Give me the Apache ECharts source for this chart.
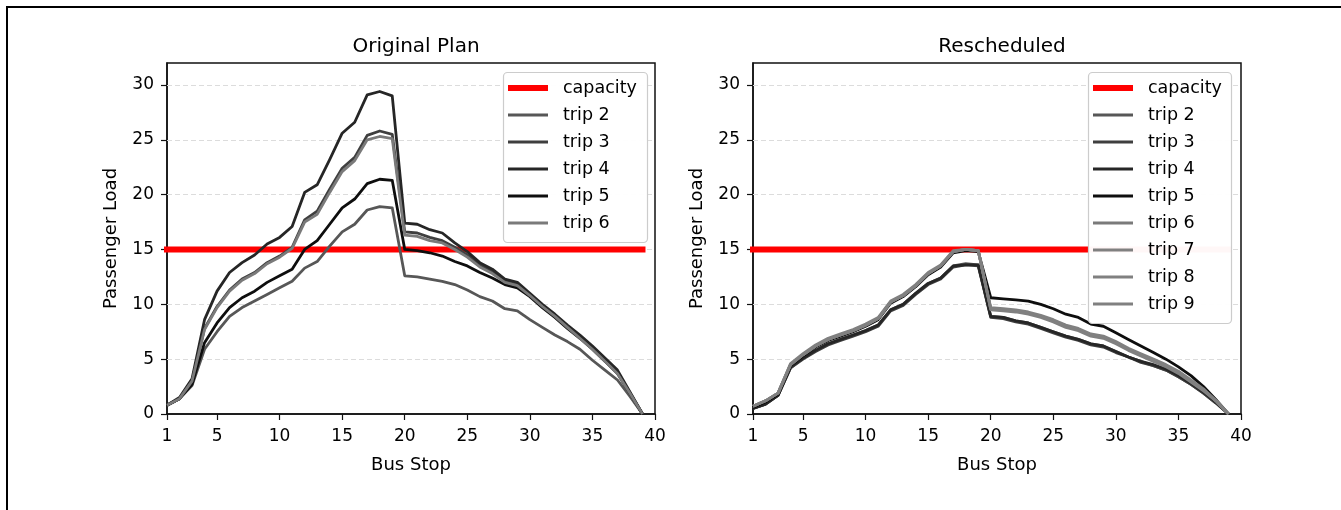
<!DOCTYPE html>
<html>
<head>
<meta charset="utf-8">
<script src="https://cdn.jsdelivr.net/npm/echarts@6/dist/echarts.min.js"></script>
<style>
html,body{margin:0;padding:0;background:#fff;}
#chart{width:1341px;height:510px;}
</style>
</head>
<body>
<div id="chart"></div>
<script>
// ---------- data ----------
const stops = [1,2,3,4,5,6,7,8,9,10,11,12,13,14,15,16,17,18,19,20,21,22,23,24,25,26,27,28,29,30,31,32,33,34,35,36,37,38,39];
const capacity = 15;
const capacityStops = [1, 39];
const xTicks = [1,5,10,15,20,25,30,35,40];
const yTicks = [0,5,10,15,20,25,30];
const titles = ['Original Plan', 'Rescheduled'];
const xName = 'Bus Stop';
const yName = 'Passenger Load';

// Original plan
const origTrip2 = [0.8,1.4,2.6,5.9,7.5,8.9,9.7,10.3,10.9,11.5,12.1,13.3,13.9,15.3,16.6,17.3,18.6,18.9,18.8,12.6,12.5,12.3,12.1,11.8,11.3,10.7,10.3,9.6,9.4,8.6,7.9,7.2,6.6,5.9,4.9,4.0,3.1,1.6,0];
const origTrip3 = [0.8,1.4,3.0,7.8,9.8,11.3,12.3,12.9,13.8,14.4,15.2,17.7,18.5,20.5,22.4,23.4,25.4,25.8,25.5,16.6,16.5,16.1,15.8,15.2,14.5,13.6,13.0,12.1,11.8,10.9,9.9,9.0,8.0,7.0,6.0,4.9,3.8,1.9,0];
const origTrip4 = [0.8,1.5,3.2,8.6,11.2,12.9,13.8,14.5,15.5,16.1,17.1,20.2,20.9,23.2,25.6,26.6,29.1,29.4,29.0,17.4,17.3,16.8,16.5,15.6,14.8,13.8,13.2,12.3,12.0,11.0,10.0,9.1,8.1,7.2,6.2,5.1,4.0,2.0,0];
const origTrip5 = [0.8,1.4,2.7,6.5,8.3,9.7,10.6,11.2,12.0,12.6,13.2,15.0,15.8,17.3,18.8,19.6,21.0,21.4,21.3,15.0,14.9,14.7,14.4,13.9,13.5,12.9,12.4,11.8,11.5,10.7,9.7,8.8,7.8,6.9,5.9,4.8,3.7,1.9,0];
const origTrip6 = [0.8,1.4,3.0,7.7,9.7,11.2,12.2,12.8,13.7,14.3,15.1,17.5,18.2,20.2,22.1,23.1,25.0,25.3,25.1,16.3,16.2,15.8,15.6,15.0,14.3,13.4,12.8,12.0,11.7,10.8,9.8,8.9,7.9,6.9,5.9,4.8,3.7,1.9,0];

// Rescheduled
const resTrip2 = [0.5,0.9,1.7,4.2,5.1,5.8,6.4,6.8,7.2,7.6,8.1,9.5,10.0,11.0,11.9,12.4,13.5,13.7,13.6,8.9,8.8,8.5,8.3,7.9,7.5,7.1,6.8,6.4,6.2,5.7,5.2,4.8,4.4,4.0,3.4,2.7,1.9,1.0,0];
const resTrip3 = [0.5,0.9,1.7,4.2,5.0,5.7,6.3,6.7,7.1,7.5,8.0,9.4,9.9,10.9,11.8,12.3,13.4,13.6,13.5,8.8,8.7,8.4,8.2,7.8,7.4,7.0,6.7,6.3,6.1,5.6,5.2,4.7,4.4,4.0,3.4,2.7,1.9,1.0,0];
const resTrip4 = [0.5,0.9,1.7,4.3,5.1,5.8,6.4,6.8,7.2,7.6,8.1,9.5,10.0,11.0,11.9,12.4,13.5,13.6,13.6,8.9,8.8,8.5,8.3,7.9,7.5,7.1,6.8,6.4,6.2,5.7,5.2,4.8,4.5,4.1,3.5,2.8,2.0,1.1,0];
const resTrip5 = [0.6,1.1,1.8,4.4,5.3,6.1,6.7,7.1,7.5,8.0,8.6,10.1,10.7,11.6,12.7,13.4,14.7,14.9,14.8,10.6,10.5,10.4,10.3,10.0,9.6,9.1,8.8,8.2,8.0,7.4,6.8,6.2,5.6,5.0,4.3,3.5,2.5,1.3,0];
const resTrip6 = [0.7,1.2,1.9,4.5,5.4,6.2,6.8,7.2,7.6,8.1,8.7,10.2,10.8,11.7,12.8,13.5,14.8,15.0,14.9,9.6,9.5,9.4,9.2,8.9,8.5,8.0,7.7,7.2,7.0,6.5,5.9,5.4,4.9,4.4,3.8,3.0,2.2,1.2,0];
const resTrip7 = [0.7,1.2,1.9,4.5,5.4,6.2,6.8,7.2,7.6,8.1,8.7,10.2,10.8,11.7,12.8,13.5,14.8,15.0,14.9,9.5,9.4,9.3,9.1,8.8,8.4,7.9,7.6,7.1,6.9,6.4,5.8,5.3,4.8,4.3,3.7,2.9,2.1,1.2,0];
const resTrip8 = [0.7,1.2,1.9,4.6,5.5,6.3,6.9,7.3,7.7,8.2,8.8,10.3,10.9,11.8,12.9,13.6,14.9,15.0,14.9,9.7,9.6,9.5,9.3,9.0,8.6,8.1,7.8,7.3,7.1,6.6,6.0,5.5,5.0,4.5,3.9,3.1,2.3,1.2,0];
const resTrip9 = [0.7,1.2,1.9,4.5,5.4,6.2,6.8,7.2,7.6,8.1,8.7,10.2,10.8,11.7,12.8,13.5,14.8,15.0,14.9,9.6,9.5,9.4,9.2,8.9,8.5,8.0,7.7,7.2,7.0,6.5,5.9,5.4,4.9,4.4,3.8,3.0,2.2,1.2,0];

const origTrips = [
  {name:'trip 2', values:origTrip2, color:'#575757'},
  {name:'trip 3', values:origTrip3, color:'#3f3f3f'},
  {name:'trip 4', values:origTrip4, color:'#262626'},
  {name:'trip 5', values:origTrip5, color:'#0e0e0e'},
  {name:'trip 6', values:origTrip6, color:'#7a7a7a'}
];
const resTrips = [
  {name:'trip 2', values:resTrip2, color:'#575757'},
  {name:'trip 3', values:resTrip3, color:'#3f3f3f'},
  {name:'trip 4', values:resTrip4, color:'#262626'},
  {name:'trip 5', values:resTrip5, color:'#0e0e0e'},
  {name:'trip 6', values:resTrip6, color:'#808080'},
  {name:'trip 7', values:resTrip7, color:'#808080'},
  {name:'trip 8', values:resTrip8, color:'#808080'},
  {name:'trip 9', values:resTrip9, color:'#808080'}
];

// ---------- chart ----------
const FONT = 'DejaVu Sans';
const TXT = '#000';
const chart = echarts.init(document.getElementById('chart'), null, {renderer:'canvas'});

const grids = [
  {left:167, top:63, width:488, height:351, show:true, borderColor:'#111', borderWidth:1.5, backgroundColor:'transparent'},
  {left:753, top:63, width:488, height:351, show:true, borderColor:'#111', borderWidth:1.5, backgroundColor:'transparent'}
];

function xAxisFor(i){
  return {
    type:'value', gridIndex:i, min:1, max:40,
    name:xName, nameLocation:'middle', nameGap:42,
    nameTextStyle:{fontFamily:FONT, fontSize:18, color:TXT},
    axisLine:{show:true, onZero:false, lineStyle:{color:'#111', width:1.5}},
    axisTick:{show:true, length:6, customValues:xTicks, lineStyle:{color:'#111', width:1.2}},
    axisLabel:{customValues:xTicks, fontFamily:FONT, fontSize:17, color:TXT, margin:14},
    splitLine:{show:false}
  };
}
function yAxisFor(i){
  return {
    type:'value', gridIndex:i, min:0, max:32,
    name:yName, nameLocation:'middle', nameGap:47, nameRotate:90,
    nameTextStyle:{fontFamily:FONT, fontSize:18, color:TXT},
    axisLine:{show:true, onZero:false, lineStyle:{color:'#111', width:1.5}},
    axisTick:{show:true, length:6, customValues:yTicks, lineStyle:{color:'#111', width:1.2}},
    axisLabel:{customValues:yTicks, fontFamily:FONT, fontSize:17, color:TXT, margin:13},
    splitLine:{show:false}
  };
}

const series = [];
function gridLines(){
  return yTicks.filter(v => v > 0).map(v => ({yAxis:v}));
}
[origTrips, resTrips].forEach((trips, gi) => {
  series.push({
    type:'line', name:'capacity', xAxisIndex:gi, yAxisIndex:gi,
    data:capacityStops.map(s => [s, capacity]),
    symbol:'none', lineStyle:{color:'#ff0000', width:6, cap:'square'}, itemStyle:{color:'#ff0000'},
    silent:true, animation:false, z:2,
    markLine:{
      silent:true, symbol:'none', label:{show:false},
      lineStyle:{color:'#dcdcdc', type:[5,3], width:1},
      data:gridLines(), z:1
    }
  });
  trips.forEach(t => {
    series.push({
      type:'line', name:t.name, xAxisIndex:gi, yAxisIndex:gi,
      data:stops.map((s, k) => [s, t.values[k]]),
      symbol:'none', lineStyle:{color:t.color, width:2.8, join:'round'}, itemStyle:{color:t.color},
      silent:true, animation:false, z:3
    });
  });
});

function legendPart(names, left, top, h){
  return {
    show:true, orient:'vertical', left:left, top:top,
    data:names.map(n => ({name:n, icon:'rect'})),
    itemWidth:40, itemHeight:h, itemGap:7,
    padding:0, z:6,
    textStyle:{fontFamily:FONT, fontSize:17.5, color:TXT, lineHeight:20, padding:[0,0,0,10]},
    selectedMode:false
  };
}
const legendLeft = [508, 1093];
const legendBoxes = [
  {x:503.5, y:72.5, w:144, h:170},
  {x:1088.5, y:72.5, w:143, h:251}
];

const option = {
  animation:false,
  backgroundColor:'#ffffff',
  title:[
    {text:titles[0], left:411, top:32, textAlign:'center', textStyle:{fontFamily:FONT, fontSize:20, fontWeight:'normal', color:TXT}},
    {text:titles[1], left:997, top:32, textAlign:'center', textStyle:{fontFamily:FONT, fontSize:20, fontWeight:'normal', color:TXT}}
  ],
  grid:grids,
  xAxis:[xAxisFor(0), xAxisFor(1)],
  yAxis:[yAxisFor(0), yAxisFor(1)],
  legend:[
    legendPart(['capacity'], legendLeft[0], 78, 6),
    legendPart(origTrips.map(t=>t.name), legendLeft[0], 105, 3),
    legendPart(['capacity'], legendLeft[1], 78, 6),
    legendPart(resTrips.map(t=>t.name), legendLeft[1], 105, 3)
  ],
  graphic:[
    {type:'rect', shape:{x:7, y:7, width:1400, height:600}, style:{fill:'none', stroke:'#000', lineWidth:2}, silent:true, z:100},
    ...legendBoxes.map(b => ({type:'rect', shape:{x:b.x, y:b.y, width:b.w, height:b.h, r:4}, style:{fill:'rgba(255,255,255,0.97)', stroke:'#cccccc', lineWidth:1.2}, silent:true, z:5}))
  ],
  series:series
};
chart.setOption(option);
</script>
</body>
</html>
